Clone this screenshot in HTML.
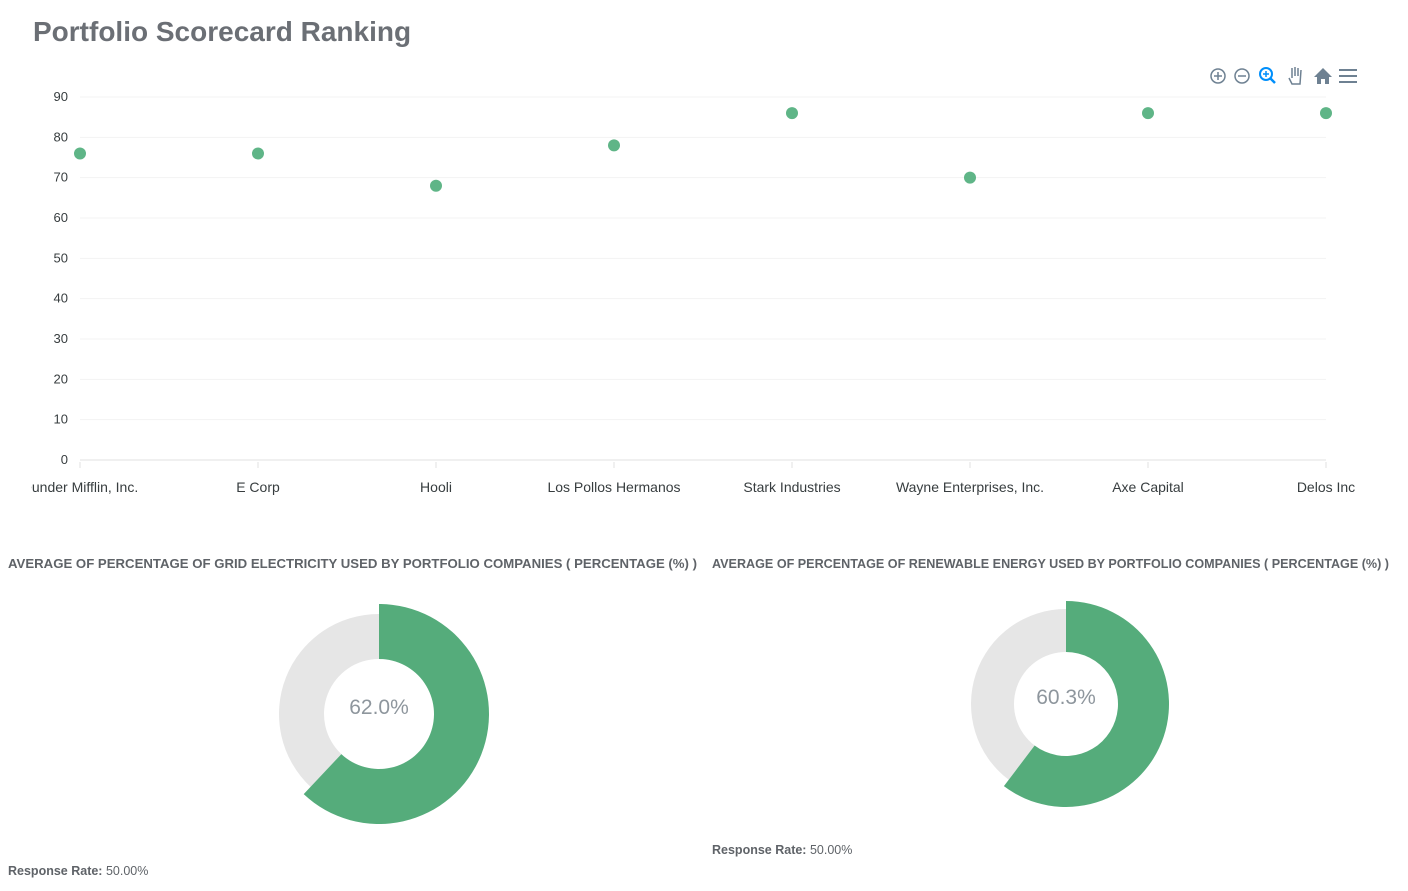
<!DOCTYPE html>
<html><head><meta charset="utf-8"><style>
body{margin:0;width:1408px;height:891px;background:#fff;font-family:"Liberation Sans",sans-serif;overflow:hidden;position:relative}
.t{position:absolute;white-space:nowrap}
</style></head><body>
<div class="t" style="left:33px;top:16px;font-size:28px;font-weight:bold;color:#6b6f75">Portfolio Scorecard Ranking</div>
<svg id="sc" width="1408" height="530" style="position:absolute;left:0;top:0"></svg>
<svg width="1408" height="30" style="position:absolute;left:0;top:550px">
<text x="8" y="18" font-size="12.5" font-weight="bold" fill="#5f6368" textLength="689" lengthAdjust="spacingAndGlyphs">AVERAGE OF PERCENTAGE OF GRID ELECTRICITY USED BY PORTFOLIO COMPANIES ( PERCENTAGE (%) )</text>
<text x="712" y="18" font-size="12.5" font-weight="bold" fill="#5f6368" textLength="677" lengthAdjust="spacingAndGlyphs">AVERAGE OF PERCENTAGE OF RENEWABLE ENERGY USED BY PORTFOLIO COMPANIES ( PERCENTAGE (%) )</text>
</svg>
<svg id="dn" width="1408" height="891" style="position:absolute;left:0;top:0;pointer-events:none"></svg>
<div class="t" style="left:8px;top:864px;font-size:12.5px;color:#5f6368"><b>Response Rate:</b> 50.00%</div>
<div class="t" style="left:712px;top:843px;font-size:12.5px;color:#5f6368"><b>Response Rate:</b> 50.00%</div>
<script>
const categories=["Dunder Mifflin, Inc.","E Corp","Hooli","Los Pollos Hermanos","Stark Industries","Wayne Enterprises, Inc.","Axe Capital","Delos Inc"];
const scores=[76,76,68,78,86,70,86,86];
const yTicks=[0,10,20,30,40,50,60,70,80,90];
const donutValues=[62.0,60.3];
const NS="http://www.w3.org/2000/svg";
function mk(p,t,a){const e=document.createElementNS(NS,t);for(const k in a)e.setAttribute(k,a[k]);p.appendChild(e);return e;}
const sc=document.getElementById('sc');
const x0=80,x1=1326,yb=460,yt=97;
const xs=i=>x0+i*(x1-x0)/(categories.length-1);
const ys=v=>yb-(v/90)*(yb-yt);
yTicks.forEach(v=>{
 const l=mk(sc,'line',{x1:x0,x2:x1,y1:ys(v),y2:ys(v),stroke:v==0?'#e0e0e0':'#f3f3f3'});
 
 const t=mk(sc,'text',{x:68,y:ys(v)+4,'text-anchor':'end','font-size':13,fill:'#373d3f'});t.textContent=v;
 
});
categories.forEach((c,i)=>{
 const tk=mk(sc,'line',{x1:xs(i),x2:xs(i),y1:yb+2,y2:yb+8,stroke:'#e0e0e0'});
 
 const t=mk(sc,'text',{x:xs(i),y:492,'text-anchor':'middle','font-size':14,fill:'#373d3f'});t.textContent=c;
 
 const d=mk(sc,'circle',{cx:xs(i),cy:ys(scores[i]),r:6,fill:'#5fb587'});
 
});
mk(sc,'rect',{x:0,y:475,width:31,height:25,fill:'#fff'});
const tb=[[1218,'zoom-in-button'],[1242,'zoom-out-button'],[1268,'zoom-select-button'],[1295,'pan-button'],[1323,'reset-button'],[1348,'menu-button']];
tb.forEach(([x,n],i)=>{
 const g=mk(sc,'g',{});
 const c='#6e8192';
 if(i<2){mk(g,'circle',{cx:x,cy:76,r:7,fill:'none',stroke:c,'stroke-width':1.5});mk(g,'line',{x1:x-4,x2:x+4,y1:76,y2:76,stroke:c,'stroke-width':1.5});if(i==0)mk(g,'line',{x1:x,x2:x,y1:72,y2:80,stroke:c,'stroke-width':1.5});}
 else if(i==2){mk(g,'circle',{cx:x-2,cy:74,r:6,fill:'none',stroke:'#008ffb','stroke-width':2});mk(g,'line',{x1:x+2,y1:78,x2:x+7,y2:83,stroke:'#008ffb','stroke-width':2.5});mk(g,'line',{x1:x-5,x2:x+1,y1:74,y2:74,stroke:'#008ffb','stroke-width':1.5});mk(g,'line',{x1:x-2,x2:x-2,y1:71,y2:77,stroke:'#008ffb','stroke-width':1.5});}
 else if(i==3){mk(g,'path',{d:`M${x-6} 78 L${x-3} 84 L${x+5} 84 L${x+6} 70 M${x-3} 78 L${x-3} 68 M${x} 76 L${x} 67 M${x+3} 76 L${x+3} 68`,fill:'none',stroke:c,'stroke-width':1.5});}
 else if(i==4){mk(g,'path',{d:`M${x-9} 77 L${x} 68 L${x+9} 77 L${x+6} 77 L${x+6} 84 L${x+2} 84 L${x+2} 79 L${x-2} 79 L${x-2} 84 L${x-6} 84 L${x-6} 77Z`,fill:c});}
 else{[70,76,82].forEach(y=>mk(g,'line',{x1:x-9,x2:x+9,y1:y,y2:y,stroke:c,'stroke-width':2}));}
});
const dn=document.getElementById('dn');
const donuts=[{cx:379,cy:714,ro:110,rg:100,ri:55,n:'grid'},{cx:1066,cy:704,ro:103,rg:95,ri:52,n:'renewable'}];
function arc(cx,cy,ro,ri,a0,a1){
 const p=(r,a)=>[cx+r*Math.sin(a),cy-r*Math.cos(a)];
 const lg=(a1-a0)>Math.PI?1:0;
 const [x1,y1]=p(ro,a0),[x2,y2]=p(ro,a1),[x3,y3]=p(ri,a1),[x4,y4]=p(ri,a0);
 return `M${x1} ${y1} A${ro} ${ro} 0 ${lg} 1 ${x2} ${y2} L${x3} ${y3} A${ri} ${ri} 0 ${lg} 0 ${x4} ${y4}Z`;
}
donuts.forEach((d,i)=>{
 const v=donutValues[i],a=v/100*2*Math.PI;
 const g=mk(dn,'path',{d:arc(d.cx,d.cy,d.rg,d.ri,a,2*Math.PI-0.0001),fill:'#e6e6e6'});
 
 const s=mk(dn,'path',{d:arc(d.cx,d.cy,d.ro,d.ri,0,a),fill:'#55ac7b'});
 
 const t=mk(dn,'text',{x:d.cx,y:d.cy,'text-anchor':'middle','font-size':21,fill:'#8e969d'});t.textContent=v.toFixed(1)+'%';
 
});
</script>
</body></html>
